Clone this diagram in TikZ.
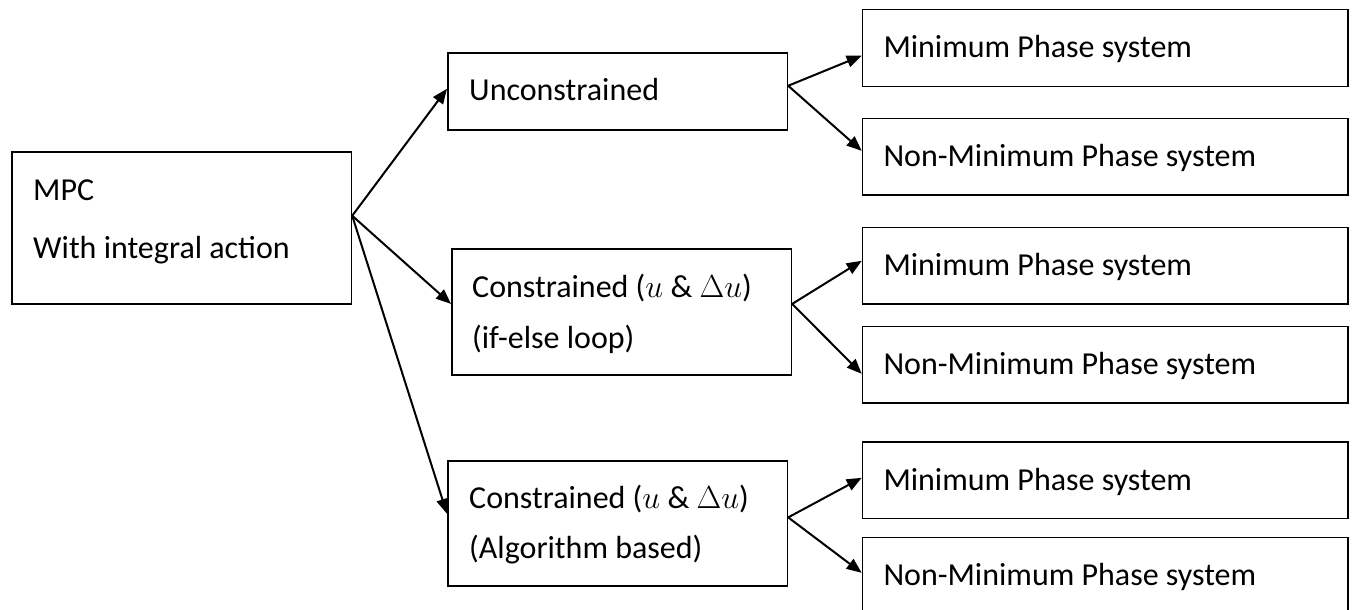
\RequirePackage{fix-cm}
\documentclass[tikz,border=0pt]{standalone}
\usepackage{fontspec}
\setmainfont{Carlito}
\usetikzlibrary{arrows.meta}
\tikzset{
  box/.style={draw=black, line width=1.5pt, anchor=north west, inner sep=0pt},
  midbox/.style={box, minimum width=339.7pt},
  sysbox/.style={box, minimum width=485.3pt, minimum height=76.7pt},
  txt/.style={anchor=base west, inner sep=0pt, font=\fontsize{32}{38}\selectfont},
  link/.style={line width=2pt, -{Triangle[length=15pt,width=12pt]}}
}
\begin{document}
\begin{tikzpicture}[x=1pt,y=-1pt]
  \useasboundingbox[fill=white] (0,0) rectangle (1357,610);

  % root
  \node[box, minimum width=339.7pt, minimum height=152pt] (mpc) at (11,151) {};
  \node[txt] (mpcA) at (33,200) {MPC};
  \node[txt] (mpcB) at (33,258) {With integral action};

  % controller variants
  \node[midbox, minimum height=77pt] (unc) at (447,52.3) {};
  \node[txt] (uncT) at (469,100) {Unconstrained};

  \node[midbox, minimum height=125.7pt] (ife) at (451,248.3) {};
  \node[txt] (ifeA) at (472,297.7) {Constrained ($u$ \& $\Delta u$)};
  \node[txt] (ifeB) at (472,348.3) {(if-else loop)};

  \node[midbox, minimum height=124.7pt] (alg) at (447,460.3) {};
  \node[txt] (algA) at (469,508.3) {Constrained ($u$ \& $\Delta u$)};
  \node[txt] (algB) at (469,558.3) {(Algorithm based)};

  % plant types
  \node[sysbox] (r1) at (861.7,9) {};
  \node[txt] (r1T) at (883.3,58) {Minimum Phase system};
  \node[sysbox] (r2) at (861.7,117.7) {};
  \node[txt] (r2T) at (883.3,166.7) {Non-Minimum Phase system};
  \node[sysbox] (r3) at (861.7,226.7) {};
  \node[txt] (r3T) at (883.3,275.7) {Minimum Phase system};
  \node[sysbox] (r4) at (861.7,325.7) {};
  \node[txt] (r4T) at (883.3,374.7) {Non-Minimum Phase system};
  \node[sysbox] (r5) at (861.7,441) {};
  \node[txt] (r5T) at (883.3,490) {Minimum Phase system};
  \node[sysbox] (r6) at (861.7,536.7) {};
  \node[txt] (r6T) at (883.3,585.7) {Non-Minimum Phase system};

  % connectors
  \draw[link] ([yshift=12pt]mpc.east) -- ([yshift=2.8pt]unc.west);
  \draw[link] ([yshift=12pt]mpc.east) -- ([yshift=8pt]ife.west);
  \draw[link] ([yshift=12pt]mpc.east) -- ([yshift=9.6pt]alg.west);

  \draw[link] ([yshift=5.8pt]unc.east) -- ([yshift=-7.6pt]r1.west);
  \draw[link] ([yshift=5.8pt]unc.east) -- ([yshift=6pt]r2.west);

  \draw[link] ([yshift=8pt]ife.east) -- ([yshift=5pt]r3.west);
  \draw[link] ([yshift=8pt]ife.east) -- ([yshift=-9pt]r4.west);

  \draw[link] ([yshift=6pt]alg.east) -- ([yshift=2.3pt]r5.west);
  \draw[link] ([yshift=6pt]alg.east) -- ([yshift=3pt]r6.west);
\end{tikzpicture}
\end{document}
